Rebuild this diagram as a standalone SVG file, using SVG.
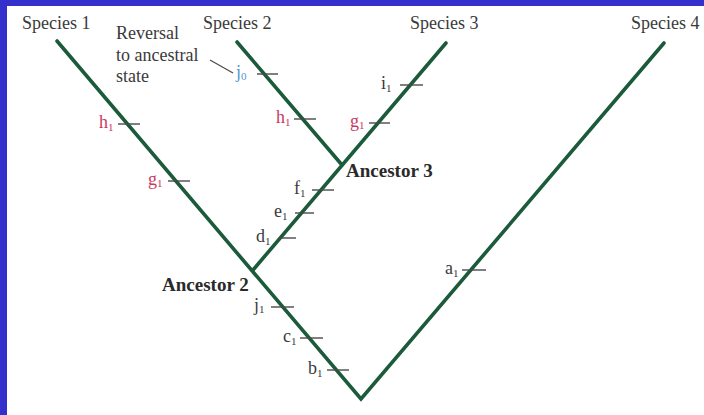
<svg xmlns="http://www.w3.org/2000/svg" width="704" height="415" viewBox="0 0 704 415">
<style>
.bg{fill:#ffffff}
.frame{fill:#3430cc}
.br{fill:none;stroke:#1b5a3a;stroke-width:3.6;stroke-linecap:round;stroke-linejoin:miter}
.tk{stroke:#4a4a4a;stroke-width:1.4}
.lead{stroke:#4a4a4a;stroke-width:1.2;fill:none}
text{font-family:"Liberation Serif","Times New Roman",serif;font-size:18px;fill:#3a3a3a}
.anc{font-weight:bold;font-size:19px;fill:#2a2a2a}
.red{fill:#c93a62}
.blue{fill:#4f97cf}
.sub{font-size:11px}
</style>
<rect class="bg" x="0" y="0" width="704" height="415"/>
<rect class="frame" x="0" y="0" width="704" height="6"/>
<rect class="frame" x="0" y="0" width="7" height="415"/>

<g id="connectors">
  <polyline class="br" points="57,41 361,399 664,43"/>
  <line class="br" x1="446" y1="43" x2="253" y2="270"/>
  <line class="br" x1="237" y1="42" x2="342" y2="165"/>
  <line class="lead" x1="210" y1="60" x2="233" y2="73"/>
  <g id="ticks">
    <line class="tk" x1="118" y1="124" x2="140" y2="124"/>
    <line class="tk" x1="168" y1="181" x2="190" y2="181"/>
    <line class="tk" x1="257" y1="74" x2="278" y2="74"/>
    <line class="tk" x1="294" y1="119" x2="316" y2="119"/>
    <line class="tk" x1="400" y1="85" x2="423" y2="85"/>
    <line class="tk" x1="369" y1="123" x2="390" y2="123"/>
    <line class="tk" x1="312" y1="190" x2="334" y2="190"/>
    <line class="tk" x1="295" y1="213" x2="314" y2="213"/>
    <line class="tk" x1="279" y1="238" x2="296" y2="238"/>
    <line class="tk" x1="271" y1="307" x2="294" y2="307"/>
    <line class="tk" x1="300" y1="338" x2="323" y2="338"/>
    <line class="tk" x1="327" y1="370" x2="349" y2="370"/>
    <line class="tk" x1="462" y1="270" x2="486" y2="270"/>
  </g>
</g>

<g id="species1"><text x="22" y="29">Species 1</text></g>
<g id="species2"><text x="203" y="29">Species 2</text></g>
<g id="species3"><text x="410" y="29">Species 3</text></g>
<g id="species4"><text x="631" y="29">Species 4</text></g>

<g id="reversal-note">
  <text x="116" y="39">Reversal</text>
  <text x="116" y="61">to ancestral</text>
  <text x="116" y="82">state</text>
</g>

<g id="ancestor3"><text class="anc" x="346" y="177">Ancestor 3</text></g>
<g id="ancestor2"><text class="anc" x="162" y="291">Ancestor 2</text></g>

<g id="traits">
  <text class="red" x="99" y="128">h<tspan class="sub" dy="3">1</tspan></text>
  <text class="red" x="148" y="185">g<tspan class="sub" dy="2">1</tspan></text>
  <text class="blue" x="236" y="78">j<tspan class="sub" dy="2">0</tspan></text>
  <text class="red" x="276" y="123">h<tspan class="sub" dy="3">1</tspan></text>
  <text x="381" y="89">i<tspan class="sub" dy="3">1</tspan></text>
  <text class="red" x="350" y="127">g<tspan class="sub" dy="2">1</tspan></text>
  <text x="294" y="194">f<tspan class="sub" dy="3">1</tspan></text>
  <text x="274" y="217">e<tspan class="sub" dy="3">1</tspan></text>
  <text x="256" y="242">d<tspan class="sub" dy="3">1</tspan></text>
  <text x="254" y="311">j<tspan class="sub" dy="2">1</tspan></text>
  <text x="283" y="342">c<tspan class="sub" dy="3">1</tspan></text>
  <text x="308" y="374">b<tspan class="sub" dy="3">1</tspan></text>
  <text x="445" y="274">a<tspan class="sub" dy="3">1</tspan></text>
</g>
</svg>
